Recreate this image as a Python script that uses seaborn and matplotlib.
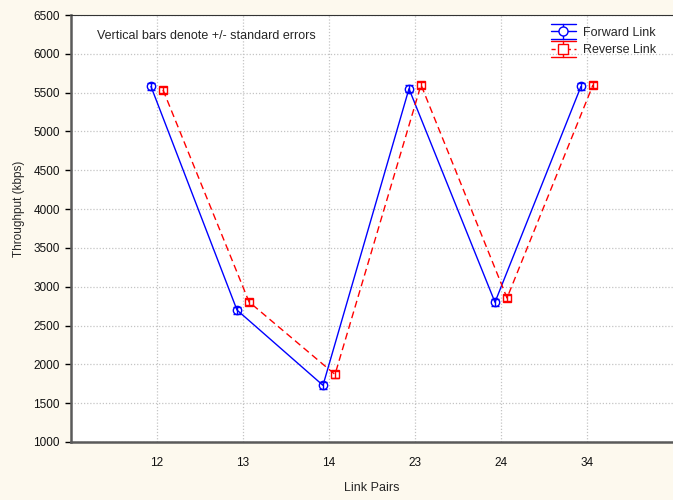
import numpy as np
import pandas as pd
import matplotlib
matplotlib.use("Agg")
import matplotlib.pyplot as plt
import seaborn as sns
from matplotlib.lines import Line2D
from matplotlib.legend_handler import HandlerBase
from matplotlib import font_manager

# ---- data ----
link_pairs = ["12", "13", "14", "23", "24", "34"]
forward_tp = [5580, 2700, 1730, 5550, 2800, 5580]
reverse_tp = [5535, 2805, 1870, 5600, 2855, 5600]
forward_se = [45, 45, 45, 45, 45, 45]
reverse_se = [40, 40, 40, 40, 40, 40]
series_names = ["Forward Link", "Reverse Link"]
y_ticks = [1000, 1500, 2000, 2500, 3000, 3500, 4000, 4500, 5000, 5500, 6000, 6500]

df = pd.DataFrame({
    "Link Pairs": link_pairs * 2,
    "Throughput": forward_tp + reverse_tp,
    "Link": [series_names[0]] * len(link_pairs) + [series_names[1]] * len(link_pairs),
})

sns.set_theme(style="white")
names = {f.name for f in font_manager.fontManager.ttflist}
narrow = "Liberation Sans Narrow" in names
if narrow:
    plt.rcParams["font.family"] = ["Liberation Sans Narrow", "Liberation Sans", "DejaVu Sans"]
    fs_tick, fs_lab, fs_ylab, fs_txt = 10.3, 10.8, 10.0, 11
else:
    plt.rcParams["font.family"] = ["Liberation Sans", "DejaVu Sans"]
    fs_tick, fs_lab, fs_ylab, fs_txt = 8.5, 9, 8.5, 9

bg = "#fdf9ee"
colors = {"Forward Link": "#0000ff", "Reverse Link": "#ff0000"}

fig = plt.figure(figsize=(6.73, 5.0), dpi=100, facecolor=bg)
ax = fig.add_axes([71 / 673, 58 / 500, 602 / 673, 427 / 500])
ax.set_facecolor("white")

sns.pointplot(data=df, x="Link Pairs", y="Throughput", hue="Link",
              order=link_pairs, hue_order=series_names, palette=colors,
              markers=["o", "s"], linestyles=["-", "--"], dodge=0.14,
              errorbar=None, ax=ax, legend=False,
              markersize=6, linewidth=1.0)

point_lines = list(ax.lines)
for line in point_lines:
    line.set_markerfacecolor("none")
    line.set_markeredgewidth(1.0)
    line.set_zorder(3)
    if line.get_linestyle() == "--":
        line.set_dashes([5, 3])

for line, name, se in zip(point_lines, series_names, [forward_se, reverse_se]):
    ax.errorbar(line.get_xdata(), line.get_ydata(), yerr=se, fmt="none",
                ecolor=colors[name], elinewidth=1.0, capsize=3, capthick=1.0,
                zorder=3)

ax.set_xlim(-1, len(link_pairs))
ax.set_ylim(1000, 6500)
ax.set_yticks(y_ticks)
ax.set_xticks(range(len(link_pairs)))
ax.set_xticklabels(link_pairs)

ax.grid(True, color="#c4c4c4", linestyle=(0, (1, 1.5)), linewidth=0.9)
ax.set_axisbelow(True)

for s in ["left", "bottom"]:
    ax.spines[s].set_color("#5a5a5a")
    ax.spines[s].set_linewidth(1.8)
ax.spines["top"].set_color("#333333")
ax.spines["top"].set_linewidth(0.8)
ax.spines["right"].set_visible(False)

ax.tick_params(axis="both", which="major", labelsize=fs_tick, colors="black",
               length=4, width=1, direction="out", pad=4)
ax.tick_params(axis="x", length=0, pad=11)
ax.tick_params(left=True, bottom=False)
for lab in ax.get_xticklabels() + ax.get_yticklabels():
    lab.set_color("#111111")

ax.set_xlabel("Link Pairs", fontsize=fs_lab, labelpad=9)
ax.set_ylabel("Throughput (kbps)", fontsize=fs_ylab)
ax.yaxis.set_label_coords(-0.077, 0.545)

ax.text(0.044, 0.965, "Vertical bars denote +/- standard errors",
        transform=ax.transAxes, fontsize=fs_txt, ha="left", va="top")


class ErrLegendHandler(HandlerBase):
    def create_artists(self, legend, orig_handle, xdescent, ydescent,
                       width, height, fontsize, trans):
        color = orig_handle.get_color()
        ym = height / 2 - ydescent
        d = 5.5
        top = Line2D([0 - xdescent, width - xdescent], [ym + d, ym + d],
                     color=color, lw=1.0)
        bot = Line2D([0 - xdescent, width - xdescent], [ym - d, ym - d],
                     color=color, lw=1.0)
        mid = Line2D([0 - xdescent, width - xdescent], [ym, ym], color=color,
                     lw=1.0, linestyle=orig_handle.get_linestyle())
        if orig_handle.get_linestyle() == "--":
            mid.set_dashes([3, 2.5])
        vert = Line2D([width / 2 - xdescent] * 2, [ym - d, ym + d],
                      color=color, lw=1.0)
        mk = Line2D([width / 2 - xdescent], [ym], color=color,
                    marker=orig_handle.get_marker(), markersize=6.5,
                    markerfacecolor="white", markeredgewidth=1.0,
                    linestyle="none")
        arts = [top, bot, mid, vert, mk]
        for a in arts:
            a.set_transform(trans)
        return arts


handles = [
    Line2D([], [], color=colors["Forward Link"], linestyle="-", marker="o"),
    Line2D([], [], color=colors["Reverse Link"], linestyle="--", marker="s"),
]
ax.legend(handles, series_names, loc="upper right", bbox_to_anchor=(0.985, 0.99),
          frameon=False, fontsize=fs_txt, handlelength=2.0, handletextpad=0.6,
          labelspacing=0.45, borderaxespad=0.2,
          handler_map={Line2D: ErrLegendHandler()})

fig.savefig("out.png", dpi=100, facecolor=bg)
